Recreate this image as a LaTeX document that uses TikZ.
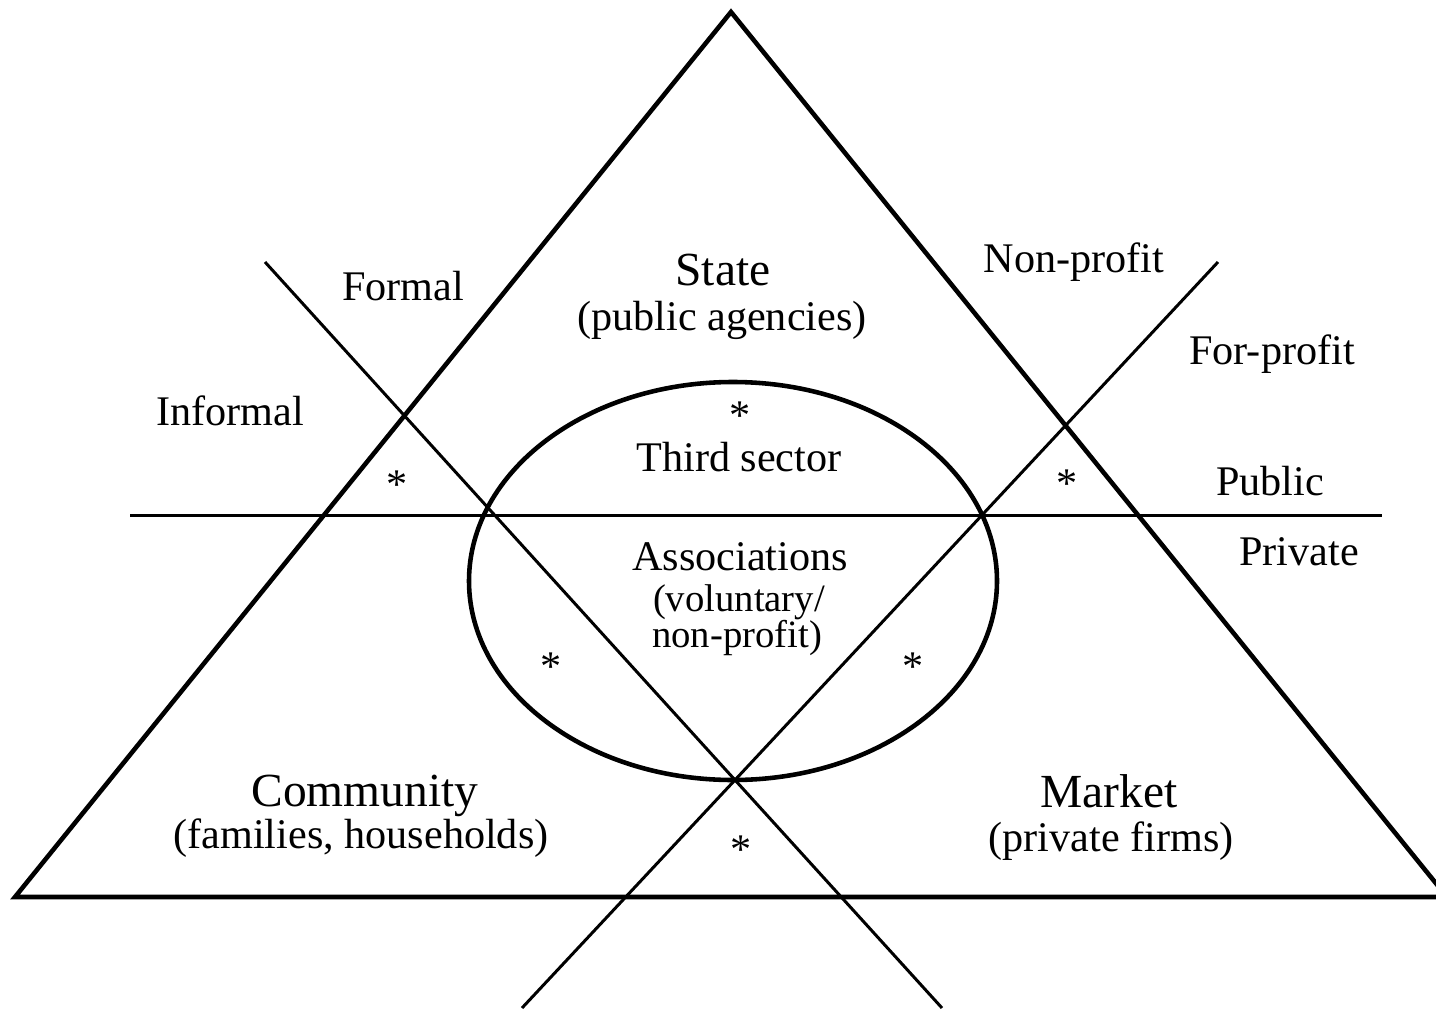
\documentclass[tikz,border=0pt]{standalone}
\usepackage{fontspec}
\setmainfont{Liberation Serif}
\usetikzlibrary{positioning,calc}

\begin{document}
\begin{tikzpicture}[x=0.01cm, y=-0.01cm,
    heading/.style={anchor=base, inner sep=0pt, font=\fontsize{13.5}{15}\selectfont},
    sublabel/.style={anchor=base, inner sep=0pt, font=\fontsize{12}{14}\selectfont},
    smalllabel/.style={anchor=base, inner sep=0pt, font=\fontsize{11}{13}\selectfont},
    star/.style={inner sep=0pt, font=\fontsize{12}{14}\selectfont},
    frame/.style={line width=1.3pt},
    divider/.style={line width=0.85pt}]
    \clip (0,0) rectangle (1436,1012);
    % Corners and crossing
    \coordinate (apex) at (731,12);
    \coordinate (baseL) at (15,897);
    \coordinate (baseR) at (1447,897);
    \coordinate (cross) at (735,780);
    \coordinate (formalTop) at (265,262);
    \coordinate (formalEnd) at (942,1008);
    \coordinate (profitTop) at (1218,262);
    \coordinate (profitEnd) at (522,1008);
    \coordinate (publicL) at (130,515);
    \coordinate (publicR) at (1382,515);
    % Triangle and third sector
    \draw[frame] (apex) -- (baseL) -- (baseR) -- cycle;
    \draw[frame] (733,581) ellipse [x radius=264, y radius=199];
    % Dividing lines
    \draw[divider] (publicL) -- (publicR);
    \draw[divider] (formalTop) -- (cross) -- (formalEnd);
    \draw[divider] (profitTop) -- (cross) -- (profitEnd);
    % Sectors
    \node[heading] (state) at (723,285) {State};
    \node[sublabel] (stateSub) at (722,330) {(public agencies)};
    \node[heading] (community) at (365,806) {Community};
    \node[sublabel] (communitySub) at (361,848) {(families, households)};
    \node[heading] (market) at (1109,807) {Market};
    \node[sublabel] (marketSub) at (1111,851) {(private firms)};
    \node[sublabel] (third) at (739,471) {Third sector};
    \node[sublabel] (assoc) at (740,570) {Associations};
    \node[smalllabel] (assocSub) at (739,611) {(voluntary/};
    \node[smalllabel] (assocSubB) at (737,647) {non-profit)};
    % Axis labels
    \node[sublabel] (formal) at (403,300) {Formal};
    \node[sublabel] (informal) at (230,425) {Informal};
    \node[sublabel] (nonprofit) at (1074,272) {Non-profit};
    \node[sublabel] (forprofit) at (1272,364) {For-profit};
    \node[sublabel] (public) at (1270,495) {Public};
    \node[sublabel] (private) at (1299,565) {Private};
    % Mixed areas
    \node[star] (starTop) at (740,416) {*};
    \node[star] (starL) at (397,485) {*};
    \node[star] (starR) at (1067,484) {*};
    \node[star] (starCL) at (551,667) {*};
    \node[star] (starCR) at (913,667) {*};
    \node[star] (starB) at (741,850) {*};
\end{tikzpicture}
\end{document}
